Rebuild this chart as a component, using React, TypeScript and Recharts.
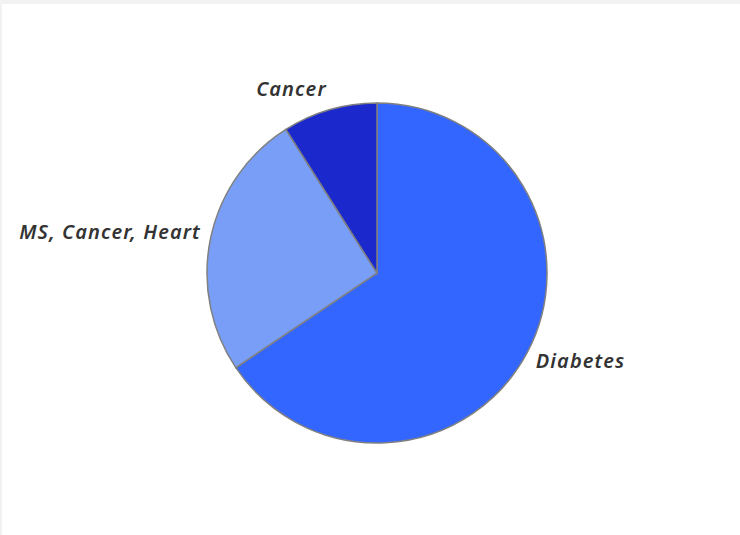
import { PieChart, Pie, Cell } from "recharts";

const labels = ["Diabetes", "MS, Cancer, Heart", "Cancer"];
const values = [65.6, 25.4, 9.0];
const colors = ["#3366ff", "#789ef7", "#1a28cc"];

const data = labels.map((name, i) => ({ name, value: values[i] }));

const RADIAN = Math.PI / 180;

function SliceLabel(props: any) {
  const { cx, cy, midAngle, outerRadius, name } = props;
  const x = cx + (outerRadius + 10) * Math.cos(-midAngle * RADIAN);
  const y = cy + (outerRadius + 20) * Math.sin(-midAngle * RADIAN) - 2;
  return (
    <text
      x={x}
      y={y}
      textAnchor={x > cx ? "start" : "end"}
      dominantBaseline="central"
      fill="#333"
      fontSize={20}
      fontWeight={600}
      fontStyle="italic"
      letterSpacing={1.1}
      fontFamily="'Noto Sans', 'Open Sans', sans-serif"
    >
      {name}
    </text>
  );
}

export default function App() {
  return (
    <div style={{ width: 740, height: 535, background: "#f2f2f2", position: "fixed", left: 0, top: 0 }}>
      <div style={{ position: "absolute", left: 2, top: 4, width: 738, height: 531, background: "#fff" }}>
        <PieChart width={738} height={531}>
          <Pie
            data={data}
            dataKey="value"
            nameKey="name"
            cx={370}
            cy={264}
            outerRadius={170}
            startAngle={90}
            endAngle={-270}
            stroke="#808080"
            strokeWidth={1.5}
            label={SliceLabel}
            labelLine={false}
            isAnimationActive={false}
          >
            {data.map((d, i) => (
              <Cell key={d.name} fill={colors[i]} />
            ))}
          </Pie>
        </PieChart>
      </div>
    </div>
  );
}
